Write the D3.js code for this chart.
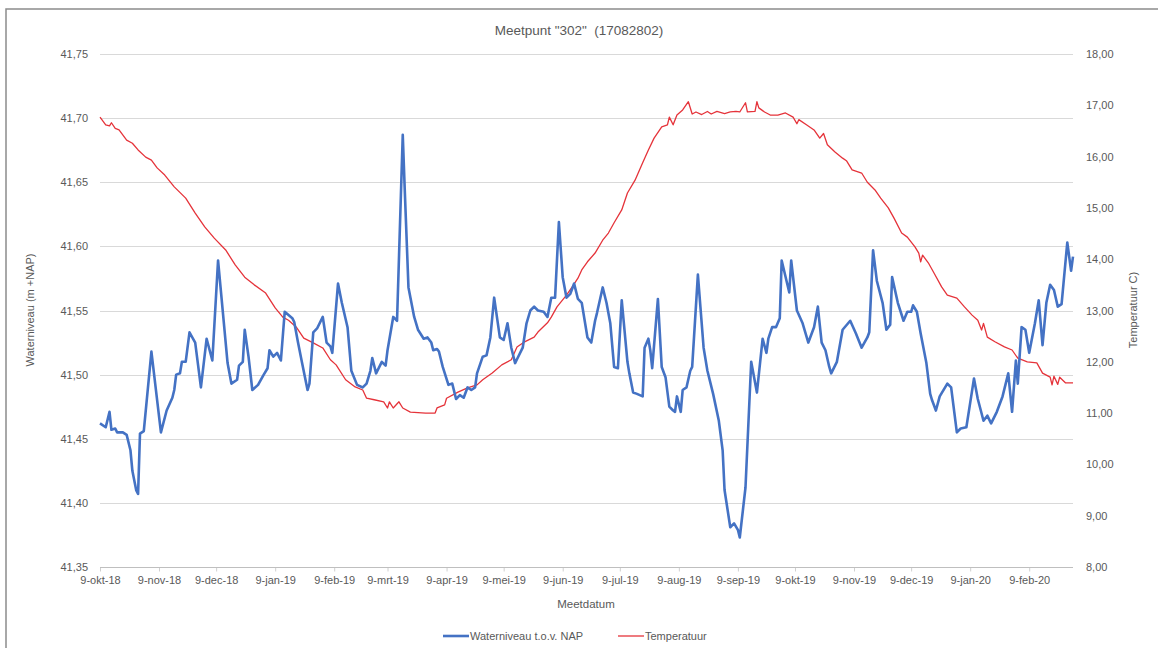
<!DOCTYPE html>
<html>
<head>
<meta charset="utf-8">
<script src="https://cdn.jsdelivr.net/npm/d3@7"></script>
<style>
  body { margin: 0; background: #fff; }
  svg { display: block; font-family: "Liberation Sans", Arial, sans-serif; }
  .axis .domain { display: none; }
</style>
</head>
<body>
<svg width="1158" height="648"></svg>
<script>
// waterniveau (m +NAP)
var waterDatums = ["2018-10-09","2018-10-12","2018-10-14","2018-10-15","2018-10-17","2018-10-18","2018-10-21","2018-10-23","2018-10-25","2018-10-26",
  "2018-10-28","2018-10-29","2018-10-30","2018-11-01","2018-11-05","2018-11-10","2018-11-13","2018-11-16","2018-11-17","2018-11-18",
  "2018-11-20","2018-11-21","2018-11-23","2018-11-25","2018-11-28","2018-12-01","2018-12-04","2018-12-07","2018-12-10","2018-12-15",
  "2018-12-17","2018-12-20","2018-12-21","2018-12-23","2018-12-24","2018-12-26","2018-12-28","2018-12-31","2019-01-03","2019-01-05",
  "2019-01-06","2019-01-08","2019-01-10","2019-01-12","2019-01-14","2019-01-18","2019-01-19","2019-01-21","2019-01-23","2019-01-26",
  "2019-01-27","2019-01-29","2019-01-31","2019-02-03","2019-02-05","2019-02-07","2019-02-08","2019-02-11","2019-02-13","2019-02-16",
  "2019-02-18","2019-02-21","2019-02-24","2019-02-26","2019-02-28","2019-03-01","2019-03-03","2019-03-06","2019-03-08","2019-03-09",
  "2019-03-12","2019-03-14","2019-03-17","2019-03-18","2019-03-20","2019-03-23","2019-03-25","2019-03-28","2019-03-30","2019-04-01",
  "2019-04-02","2019-04-04","2019-04-05","2019-04-07","2019-04-10","2019-04-12","2019-04-14","2019-04-16","2019-04-18","2019-04-20",
  "2019-04-22","2019-04-24","2019-04-25","2019-04-28","2019-04-30","2019-05-02","2019-05-04","2019-05-07","2019-05-09","2019-05-11",
  "2019-05-13","2019-05-15","2019-05-16","2019-05-19","2019-05-21","2019-05-23","2019-05-25","2019-05-27","2019-05-30","2019-06-01",
  "2019-06-03","2019-06-05","2019-06-07","2019-06-09","2019-06-11","2019-06-13","2019-06-15","2019-06-17","2019-06-19","2019-06-22",
  "2019-06-24","2019-06-26","2019-06-27","2019-06-30","2019-07-02","2019-07-04","2019-07-06","2019-07-08","2019-07-10","2019-07-13",
  "2019-07-14","2019-07-16","2019-07-18","2019-07-21","2019-07-22","2019-07-24","2019-07-25","2019-07-26","2019-07-29","2019-07-31",
  "2019-08-02","2019-08-04","2019-08-06","2019-08-07","2019-08-08","2019-08-10","2019-08-11","2019-08-13","2019-08-15","2019-08-16",
  "2019-08-19","2019-08-22","2019-08-24","2019-08-27","2019-08-30","2019-09-01","2019-09-02","2019-09-05","2019-09-07","2019-09-09",
  "2019-09-10","2019-09-13","2019-09-16","2019-09-19","2019-09-22","2019-09-24","2019-09-25","2019-09-27","2019-09-29","2019-10-01",
  "2019-10-02","2019-10-06","2019-10-07","2019-10-10","2019-10-13","2019-10-16","2019-10-19","2019-10-21","2019-10-23","2019-10-25",
  "2019-10-27","2019-10-28","2019-10-31","2019-11-03","2019-11-07","2019-11-10","2019-11-13","2019-11-16","2019-11-17","2019-11-19",
  "2019-11-21","2019-11-24","2019-11-26","2019-11-28","2019-11-29","2019-12-02","2019-12-05","2019-12-07","2019-12-09","2019-12-10",
  "2019-12-12","2019-12-14","2019-12-17","2019-12-19","2019-12-20","2019-12-22","2019-12-24","2019-12-28","2019-12-30","2020-01-02",
  "2020-01-04","2020-01-07","2020-01-09","2020-01-11","2020-01-13","2020-01-16","2020-01-18","2020-01-20","2020-01-23","2020-01-26",
  "2020-01-29","2020-01-31","2020-02-02","2020-02-03","2020-02-05","2020-02-07","2020-02-09","2020-02-12","2020-02-14","2020-02-16",
  "2020-02-18","2020-02-20","2020-02-22","2020-02-24","2020-02-26","2020-02-27","2020-02-29","2020-03-02","2020-03-03"];
var waterniveau = [41.462,41.459,41.471,41.457,41.458,41.455,41.455,41.453,41.441,41.425,
  41.410,41.407,41.454,41.456,41.518,41.455,41.472,41.482,41.488,41.500,
  41.501,41.510,41.510,41.533,41.525,41.490,41.528,41.511,41.589,41.509,
  41.493,41.496,41.507,41.510,41.535,41.514,41.488,41.492,41.500,41.505,
  41.519,41.514,41.517,41.511,41.549,41.544,41.541,41.525,41.510,41.488,
  41.493,41.533,41.536,41.545,41.525,41.522,41.517,41.571,41.556,41.537,
  41.503,41.492,41.490,41.493,41.503,41.513,41.501,41.510,41.507,41.519,
  41.545,41.542,41.687,41.646,41.568,41.545,41.535,41.528,41.529,41.525,
  41.519,41.520,41.518,41.506,41.492,41.493,41.481,41.484,41.482,41.490,
  41.488,41.490,41.501,41.514,41.515,41.529,41.560,41.529,41.527,41.540,
  41.521,41.509,41.512,41.521,41.540,41.550,41.553,41.550,41.549,41.545,
  41.560,41.560,41.619,41.576,41.560,41.563,41.571,41.559,41.556,41.529,
  41.525,41.542,41.548,41.568,41.556,41.540,41.506,41.505,41.558,41.510,
  41.501,41.486,41.485,41.483,41.521,41.528,41.519,41.505,41.559,41.506,
  41.498,41.475,41.472,41.471,41.483,41.471,41.488,41.490,41.503,41.506,
  41.578,41.521,41.503,41.485,41.464,41.441,41.410,41.381,41.384,41.379,
  41.373,41.412,41.510,41.486,41.528,41.517,41.528,41.537,41.537,41.544,
  41.589,41.564,41.589,41.550,41.540,41.525,41.537,41.553,41.525,41.519,
  41.506,41.501,41.510,41.535,41.542,41.532,41.521,41.529,41.533,41.597,
  41.573,41.556,41.535,41.539,41.576,41.556,41.542,41.549,41.549,41.554,
  41.549,41.532,41.509,41.485,41.480,41.472,41.483,41.493,41.490,41.455,
  41.458,41.459,41.478,41.497,41.481,41.464,41.468,41.462,41.471,41.483,
  41.501,41.471,41.511,41.493,41.537,41.535,41.517,41.540,41.558,41.523,
  41.556,41.570,41.566,41.553,41.555,41.571,41.603,41.581,41.592];

// temperatuur (C)
var tempDatums = ["2018-10-09","2018-10-12","2018-10-14","2018-10-15","2018-10-17","2018-10-19","2018-10-23","2018-10-26","2018-10-29","2018-11-02",
  "2018-11-05","2018-11-08","2018-11-12","2018-11-17","2018-11-23","2018-11-28","2018-12-03","2018-12-08","2018-12-14","2018-12-19",
  "2018-12-24","2018-12-29","2019-01-04","2019-01-09","2019-01-13","2019-01-16","2019-01-20","2019-01-24","2019-01-29","2019-02-03",
  "2019-02-07","2019-02-10","2019-02-15","2019-02-20","2019-02-24","2019-02-26","2019-03-02","2019-03-07","2019-03-09","2019-03-10",
  "2019-03-12","2019-03-15","2019-03-17","2019-03-21","2019-03-29","2019-04-03","2019-04-04","2019-04-08","2019-04-09","2019-04-15",
  "2019-04-20","2019-04-25","2019-04-28","2019-05-03","2019-05-08","2019-05-13","2019-05-16","2019-05-20","2019-05-25","2019-05-27",
  "2019-06-01","2019-06-03","2019-06-06","2019-06-11","2019-06-14","2019-06-17","2019-06-19","2019-06-22","2019-06-26","2019-06-30",
  "2019-07-03","2019-07-06","2019-07-10","2019-07-13","2019-07-17","2019-07-21","2019-07-24","2019-07-27","2019-07-31","2019-08-03",
  "2019-08-04","2019-08-06","2019-08-08","2019-08-11","2019-08-14","2019-08-16","2019-08-18","2019-08-21","2019-08-24","2019-08-26",
  "2019-08-29","2019-09-02","2019-09-05","2019-09-08","2019-09-10","2019-09-13","2019-09-14","2019-09-18","2019-09-19","2019-09-20",
  "2019-09-23","2019-09-26","2019-09-30","2019-10-04","2019-10-08","2019-10-10","2019-10-11","2019-10-15","2019-10-19","2019-10-22",
  "2019-10-24","2019-10-26","2019-10-30","2019-11-03","2019-11-05","2019-11-08","2019-11-13","2019-11-16","2019-11-20","2019-11-23",
  "2019-11-27","2019-11-30","2019-12-04","2019-12-07","2019-12-11","2019-12-13","2019-12-14","2019-12-15","2019-12-18","2019-12-21",
  "2019-12-25","2019-12-28","2020-01-02","2020-01-06","2020-01-10","2020-01-13","2020-01-15","2020-01-16","2020-01-18","2020-01-22",
  "2020-01-27","2020-01-31","2020-02-03","2020-02-08","2020-02-13","2020-02-16","2020-02-20","2020-02-21","2020-02-22","2020-02-24",
  "2020-02-25","2020-02-28","2020-03-03"];
var temperatuur = [16.77,16.62,16.60,16.66,16.55,16.52,16.32,16.26,16.13,15.99,
  15.93,15.78,15.64,15.41,15.19,14.90,14.63,14.41,14.18,13.89,
  13.65,13.50,13.34,13.05,12.87,12.81,12.68,12.46,12.37,12.27,
  12.04,11.94,11.65,11.51,11.45,11.29,11.26,11.22,11.10,11.22,
  11.10,11.22,11.10,11.02,11.00,11.00,11.10,11.16,11.29,11.41,
  11.49,11.55,11.65,11.78,11.94,12.04,12.29,12.39,12.48,12.58,
  12.76,12.87,13.07,13.30,13.46,13.63,13.79,13.95,14.12,14.37,
  14.51,14.71,14.96,15.29,15.54,15.88,16.13,16.36,16.58,16.62,
  16.77,16.62,16.81,16.91,17.07,16.83,16.87,16.82,16.88,16.83,
  16.88,16.84,16.87,16.88,16.87,17.05,16.87,16.88,17.07,16.95,
  16.87,16.81,16.81,16.85,16.77,16.64,16.72,16.62,16.52,16.36,
  16.45,16.23,16.09,15.97,15.92,15.74,15.68,15.50,15.35,15.19,
  15.00,14.80,14.51,14.43,14.24,14.12,13.95,14.08,13.93,13.73,
  13.46,13.30,13.24,13.07,12.91,12.81,12.62,12.75,12.48,12.39,
  12.29,12.23,12.07,12.00,11.98,11.78,11.70,11.55,11.72,11.56,
  11.70,11.59,11.59];

// as lijnen
var xTickDatums = ["2018-10-09","2018-11-09","2018-12-09","2019-01-09","2019-02-09","2019-03-09","2019-04-09","2019-05-09",
  "2019-06-09","2019-07-09","2019-08-09","2019-09-09","2019-10-09","2019-11-09","2019-12-09","2020-01-09","2020-02-09"];
var maanden = ["jan","feb","mrt","apr","mei","jun","jul","aug","sep","okt","nov","dec"];
var linksTicks = [41.35,41.40,41.45,41.50,41.55,41.60,41.65,41.70,41.75];
var rechtsTicks = [8,9,10,11,12,13,14,15,16,17,18];

var parse = d3.timeParse("%Y-%m-%d");
var nl = d3.formatLocale({decimal: ",", thousands: ".", grouping: [3], currency: ["€", ""]});
var nlTijd = d3.timeFormatLocale({
  dateTime: "%a %e %B %Y %X", date: "%d-%m-%Y", time: "%H:%M:%S", periods: ["", ""],
  days: ["zondag","maandag","dinsdag","woensdag","donderdag","vrijdag","zaterdag"],
  shortDays: ["zo","ma","di","wo","do","vr","za"],
  months: ["januari","februari","maart","april","mei","juni","juli","augustus","september","oktober","november","december"],
  shortMonths: maanden
});

var water = waterDatums.map(function(d, i) { return {date: parse(d), v: waterniveau[i]}; });
var temp = tempDatums.map(function(d, i) { return {date: parse(d), v: temperatuur[i]}; });

var svg = d3.select("svg");
var plotLeft = 100, plotRight = 1073, plotTop = 54, plotBottom = 567;

// kader
svg.append("path")
  .attr("d", "M6,648 L6,9 L1158,9")
  .attr("fill", "none").attr("stroke", "#8c8c8c").attr("stroke-width", 1.5);

var x = d3.scaleTime()
  .domain([water[0].date, water[water.length - 1].date])
  .range([plotLeft, plotRight]);
var y = d3.scaleLinear().domain([41.35, 41.75]).range([plotBottom, plotTop]);
var y2 = d3.scaleLinear().domain([8, 18]).range([plotBottom, plotTop]);

// gridlijnen
svg.append("g").selectAll("line")
  .data(linksTicks.slice(1))
  .enter().append("line")
  .attr("x1", plotLeft).attr("x2", plotRight)
  .attr("y1", function(d) { return Math.round(y(d)) + 0.5; })
  .attr("y2", function(d) { return Math.round(y(d)) + 0.5; })
  .attr("stroke", "#d9d9d9").attr("stroke-width", 1);

// x-as
var xAxis = svg.append("g")
  .attr("class", "axis")
  .attr("transform", "translate(0," + (plotBottom + 0.5) + ")")
  .call(d3.axisBottom(x)
    .tickValues(xTickDatums.map(parse))
    .tickSize(4)
    .tickPadding(5)
    .tickFormat(nlTijd.format("%-d-%b-%y")));
xAxis.append("line").attr("x1", plotLeft).attr("x2", plotRight).attr("stroke", "#bfbfbf");
xAxis.selectAll(".tick line").attr("stroke", "#d0d0d0");
xAxis.selectAll("text").attr("fill", "#595959").style("font-size", "11px");

// linker as
var yAxis = svg.append("g")
  .attr("class", "axis")
  .attr("transform", "translate(" + plotLeft + ",0)")
  .call(d3.axisLeft(y).tickValues(linksTicks).tickSize(0).tickPadding(12).tickFormat(nl.format(".2f")));
yAxis.selectAll("text").attr("fill", "#595959").style("font-size", "11px");

// rechter as
var y2Axis = svg.append("g")
  .attr("class", "axis")
  .attr("transform", "translate(" + plotRight + ",0)")
  .call(d3.axisRight(y2).tickValues(rechtsTicks).tickSize(0).tickPadding(13).tickFormat(nl.format(".2f")));
y2Axis.selectAll("text").attr("fill", "#595959").style("font-size", "11px");

// lijnen
svg.append("path")
  .datum(temp)
  .attr("fill", "none")
  .attr("stroke", "#e5333a")
  .attr("stroke-width", 1.3)
  .attr("stroke-linejoin", "round")
  .attr("d", d3.line().x(function(d) { return x(d.date); }).y(function(d) { return y2(d.v); }));

svg.append("path")
  .datum(water)
  .attr("fill", "none")
  .attr("stroke", "#4472c4")
  .attr("stroke-width", 2.6)
  .attr("stroke-linejoin", "round")
  .attr("d", d3.line().x(function(d) { return x(d.date); }).y(function(d) { return y(d.v); }));

// titels
svg.append("text")
  .attr("x", 579).attr("y", 35)
  .attr("text-anchor", "middle")
  .attr("fill", "#595959").style("font-size", "13.5px")
  .style("white-space", "pre")
  .text("Meetpunt \"302\"  (17082802)");

svg.append("text")
  .attr("x", 586).attr("y", 608)
  .attr("text-anchor", "middle")
  .attr("fill", "#595959").style("font-size", "11.5px")
  .text("Meetdatum");

svg.append("text")
  .attr("transform", "translate(34,310) rotate(-90)")
  .attr("text-anchor", "middle")
  .attr("fill", "#595959").style("font-size", "11px")
  .text("Waterniveau (m +NAP)");

svg.append("text")
  .attr("transform", "translate(1137,310) rotate(-90)")
  .attr("text-anchor", "middle")
  .attr("fill", "#595959").style("font-size", "11px")
  .text("Temperatuur C)");

// legenda
var legenda = [
  {naam: "Waterniveau t.o.v. NAP", kleur: "#4472c4", w: 2.6, x: 443},
  {naam: "Temperatuur", kleur: "#e5333a", w: 1.3, x: 618}
];
var lg = svg.append("g").selectAll("g")
  .data(legenda)
  .enter().append("g")
  .attr("transform", function(d) { return "translate(" + d.x + ",636)"; });
lg.append("line")
  .attr("x1", 0).attr("x2", 26)
  .attr("stroke", function(d) { return d.kleur; })
  .attr("stroke-width", function(d) { return d.w; });
lg.append("text")
  .attr("x", 27).attr("dy", "0.35em")
  .attr("fill", "#595959").style("font-size", "11px")
  .text(function(d) { return d.naam; });
</script>
</body>
</html>
